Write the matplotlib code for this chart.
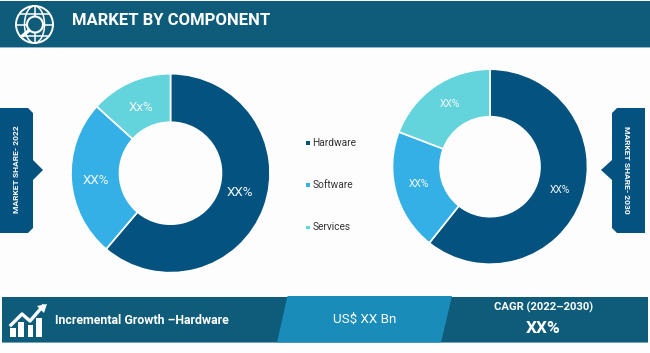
import matplotlib
matplotlib.use("Agg")
import matplotlib.pyplot as plt
from matplotlib.patches import Polygon, Rectangle, Circle, Ellipse

plt.rcParams["font.family"] = ["Roboto", "DejaVu Sans"]

categories = ["Hardware", "Software", "Services"]
share_2022 = [61.2, 25.5, 13.3]
share_2030 = [60.7, 20.1, 19.2]
labels_2022 = ["XX%", "XX%", "Xx%"]
labels_2030 = ["XX%", "XX%", "XX%"]
colors = ["#04527f", "#35b0e6", "#63d3dc"]
title = "MARKET BY COMPONENT"

W, H = 650, 353
BAND = "#0f5c7a"
NAVY = "#04527f"
fig = plt.figure(figsize=(W / 100, H / 100), dpi=100, facecolor="#fdfdfd")
bg = fig.add_axes([0, 0, 1, 1])
bg.set_xlim(0, W)
bg.set_ylim(H, 0)
bg.axis("off")

def poly(pts, c, z=1):
    bg.add_patch(Polygon(pts, closed=True, fc=c, ec="none", zorder=z))

# page edges and header
bg.add_patch(Rectangle((0, 0), W, 1, fc="white", ec="none"))
bg.add_patch(Rectangle((0, 1), W, 46, fc=BAND, ec="none"))
bg.add_patch(Rectangle((0, 47), W, 1.2, fc="#8fb8ca", ec="none"))
bg.text(72, 20.5, title, color="white", fontsize=12, fontweight="bold", va="center", ha="left")

# globe + magnifier icon
lw = 1.1
bg.add_patch(Circle((34.5, 24.5), 18.5, fc="none", ec="white", lw=1.4))
bg.add_patch(Ellipse((34.5, 24.5), 20, 37, fc="none", ec="white", lw=lw))
bg.plot([34.5, 34.5], [6, 43], color="white", lw=lw)
bg.plot([16, 53], [24.5, 24.5], color="white", lw=lw)
bg.plot([20, 49], [13.5, 13.5], color="white", lw=lw)
bg.plot([20, 49], [35.5, 35.5], color="white", lw=lw)
bg.add_patch(Circle((35, 24.5), 8, fc=BAND, ec="white", lw=1.5, zorder=3))
bg.plot([29, 23], [30.5, 35.5], color="white", lw=2.4, zorder=3)

# side tags
poly([(0, 108), (28, 108), (33, 113), (33, 160), (43, 170), (33, 180), (33, 228), (28, 233), (0, 233)], NAVY)
poly([(617, 108), (645, 108), (645, 233), (617, 233), (612, 228), (612, 180), (601, 170), (612, 160), (612, 113)], NAVY)
bg.text(16.5, 169, "MARKET SHARE- 2022", color="white", fontsize=6.1, fontweight="bold", rotation=90, va="center", ha="center")
bg.text(627, 169.5, "MARKET SHARE- 2030", color="white", fontsize=6.1, fontweight="bold", rotation=270, va="center", ha="center")

# legend
for name, col, y in zip(categories, colors, [143, 185, 227.5]):
    bg.add_patch(Rectangle((306, y - 1.7), 3.6, 3.6, fc=col, ec="none"))
    bg.text(312.5, y, name, color="#333333", fontsize=7.3, va="center", ha="left")

# bottom band
bg.add_patch(Rectangle((2, 297), 646, 45.5, fc=BAND, ec="none"))
bg.add_patch(Rectangle((2, 342), 646, 1, fc="#6fa5bb", ec="none"))
poly([(287.5, 296), (452, 296), (441, 342.5), (277, 342.5)], "#1a8cba", 2)
bg.text(55, 320.5, "Incremental Growth \u2013Hardware", color="white", fontsize=8.9, fontweight="bold", va="center", ha="left", zorder=3)
bg.text(364.5, 319.5, "US$ XX Bn", color="white", fontsize=9.6, va="center", ha="center", zorder=3)
bg.text(544, 307.5, "CAGR (2022\u20132030)", color="white", fontsize=8.1, fontweight="bold", va="center", ha="center", zorder=3)
bg.text(543.5, 328.5, "XX%", color="white", fontsize=12.4, fontweight="bold", va="center", ha="center", zorder=3)

# growth icon
for x, top in zip([10, 18, 27.5, 36], [328, 322, 325, 318]):
    bg.add_patch(Rectangle((x, top), 5.5, 337 - top, fc="white", ec="none", zorder=3))
bg.plot([11, 22, 30, 43], [325, 314, 321, 306], color="white", lw=2.4, zorder=3)
poly([(47, 304), (37, 306), (44, 313)], "white", 3)

def donut(cx, cy, r, hole, values, labels, lab_r, size, nudges):
    ax = fig.add_axes([(cx - r) / W, 1 - (cy + r) / H, 2 * r / W, 2 * r / H])
    _, texts = ax.pie(values, colors=colors, startangle=90, counterclock=False, radius=1,
                      wedgeprops=dict(width=1 - hole / r, edgecolor="white", linewidth=1.2),
                      labels=labels, labeldistance=lab_r,
                      textprops=dict(color="#f4f8fa", fontsize=size, ha="center", va="center"))
    for t, (dx, dy) in zip(texts, nudges):
        x, y = t.get_position()
        t.set_position((x + dx / r, y - dy / r))
    ax.set_xlim(-1, 1)
    ax.set_ylim(-1, 1)
    ax.set_aspect("equal")
    ax.patch.set_alpha(0)

donut(170.5, 173.2, 99.5, 51, share_2022, labels_2022, 0.74, 9.6, [(0, -6), (-1, 2), (0, 2)])
donut(490, 166.7, 97.5, 50, share_2030, labels_2030, 0.74, 7.4, [(2, 0), (-2, -2), (1, -3)])

fig.savefig("out.png", dpi=100, facecolor=fig.get_facecolor())
